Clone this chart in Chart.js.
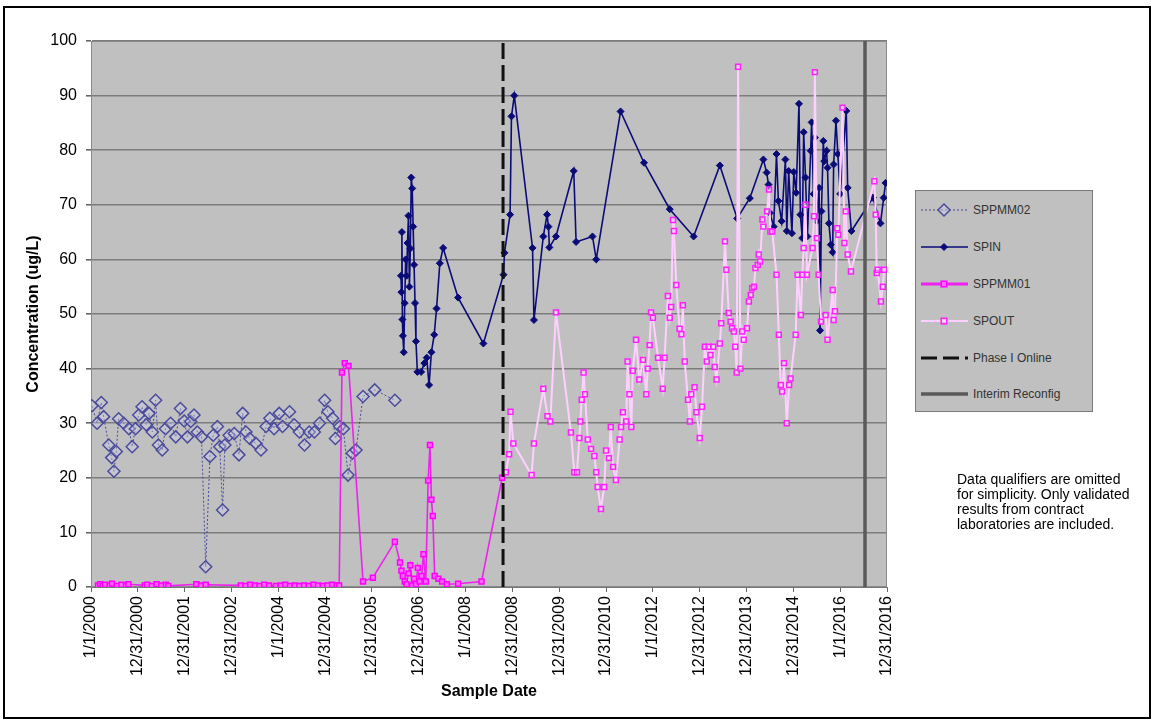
<!DOCTYPE html>
<html>
<head>
<meta charset="utf-8">
<script src="https://cdn.jsdelivr.net/npm/chart.js@4.4.1/dist/chart.umd.min.js"></script>
<style>
    body { margin: 0; background: #fff; font-family: Arial, "Liberation Sans", sans-serif; }
    #wrap { position: relative; width: 1154px; height: 723px; overflow: hidden; }
    #chart { position: absolute; left: 0; top: 0; }
    #frame { position: absolute; left: 3px; top: 6px; width: 1148px; height: 713px; border: 2px solid #000; box-sizing: border-box; pointer-events: none; }
    #legend { position: absolute; left: 915px; top: 190px; width: 178px; height: 222px; background: #c0c0c0; border: 1px solid #7a7a7a; box-sizing: border-box; }
    .item { position: absolute; left: 4px; height: 20px; font-size: 12px; line-height: 20px; color: #333; white-space: nowrap; }
    .item svg { position: absolute; left: 0; top: 0; }
    .item span { position: absolute; left: 53px; top: 0; }
    #note { position: absolute; left: 957px; top: 472px; font-size: 14px; line-height: 15px; color: #000; }
</style>
</head>
<body>
<div id="wrap">
    <canvas id="chart" width="1154" height="723"></canvas>
    <div id="legend"></div>
    <div id="note">Data qualifiers are omitted<br>for simplicity. Only validated<br>results from contract<br>laboratories are included.</div>
    <div id="frame"></div>
</div>
<script>
// x values are years after 1/1/2000 on a 365-day axis
const xTickLabels = ['1/1/2000', '12/31/2000', '12/31/2001', '12/31/2002', '1/1/2004', '12/31/2004',
    '12/31/2005', '12/31/2006', '1/1/2008', '12/31/2008', '12/31/2009', '12/31/2010', '1/1/2012',
    '12/31/2012', '12/31/2013', '12/31/2014', '1/1/2016', '12/31/2016'];

const sppmm02Years = [0.02, 0.13, 0.22, 0.27, 0.38, 0.44, 0.49, 0.54, 0.59, 0.70, 0.81, 0.88, 0.95, 1.02, 1.09,
    1.18, 1.24, 1.31, 1.38, 1.44, 1.52, 1.59, 1.70, 1.81, 1.91, 1.99, 2.06, 2.13, 2.20, 2.27, 2.36, 2.45, 2.54,
    2.61, 2.70, 2.75, 2.81, 2.86, 2.95, 3.06, 3.16, 3.24, 3.31, 3.39, 3.52, 3.63, 3.74, 3.82, 3.91, 4.02, 4.09,
    4.24, 4.34, 4.45, 4.56, 4.66, 4.77, 4.88, 4.99, 5.06, 5.16, 5.22, 5.31, 5.39, 5.49, 5.58, 5.66, 5.81, 6.06, 6.49];
const sppmm02Values = [33.2, 30.0, 33.8, 31.2, 26.0, 23.7, 21.2, 24.8, 30.8, 30.0, 29.0, 25.7, 29.0, 31.5, 33.0,
    29.7, 31.8, 28.4, 34.2, 26.0, 25.1, 29.0, 30.0, 27.5, 32.7, 30.4, 27.5, 30.3, 31.5, 28.4, 27.5, 3.7, 23.9,
    27.8, 29.4, 25.7, 14.1, 26.0, 27.8, 28.1, 24.2, 31.8, 28.4, 27.2, 26.3, 25.1, 29.4, 30.9, 29.0, 31.8, 29.4,
    32.1, 29.7, 28.4, 26.0, 28.4, 28.4, 30.0, 34.2, 32.1, 30.9, 27.2, 29.4, 29.0, 20.5, 24.5, 25.1, 34.9, 36.1, 34.2];

const spinYears = [6.62, 6.63, 6.64, 6.65, 6.66, 6.68, 6.70, 6.72, 6.74, 6.76, 6.78, 6.80, 6.82, 6.84, 6.86, 6.88,
    6.90, 6.92, 6.94, 6.97, 7.05, 7.12, 7.17, 7.22, 7.27, 7.33, 7.38, 7.45, 7.52, 7.84, 8.38, 8.81, 8.83, 8.95,
    8.98, 9.04, 9.43, 9.46, 9.66, 9.74, 9.77, 9.79, 9.93, 10.31, 10.36, 10.71, 10.79, 11.31, 11.81, 12.36, 12.87,
    13.43, 13.80, 14.07, 14.36, 14.43, 14.47, 14.50, 14.58, 14.64, 14.68, 14.75, 14.83, 14.86, 14.90, 14.97,
    15.01, 15.06, 15.12, 15.15, 15.19, 15.22, 15.26, 15.30, 15.37, 15.39, 15.43, 15.46, 15.50, 15.55, 15.57,
    15.60, 15.64, 15.66, 15.71, 15.73, 15.76, 15.80, 15.84, 15.86, 15.91, 15.95, 16.00, 16.13, 16.16, 16.24,
    16.70, 16.86, 16.93, 16.97];
const spinValues = [57, 54, 65, 49, 46, 43, 52, 60, 57, 63, 68, 55, 62, 75, 73, 66,
    59, 52, 45, 39.4, 39.4, 41, 42, 37, 43, 46.2, 51, 59.3, 62.1, 53, 44.6, 57.2, 61.2, 68.2,
    86.2, 90, 62.1, 48.9, 64.2, 68.2, 66, 62.2, 64.2, 76.2, 63.2, 64.2, 60, 87.1, 77.7, 69.2, 64.2,
    77.2, 67.5, 71.2, 78.3, 75.9, 73.7, 68.5, 66, 79.3, 70.7, 67, 78.3, 65.2, 76.2, 64.8,
    76, 72.2, 88.5, 68.2, 63.9, 83.3, 75, 64.2, 79.9, 85.1, 72, 82.3, 67, 73.1, 47,
    68.8, 81.7, 78, 79.9, 76.8, 66.6, 62.7, 61.3, 77.4, 85.4, 79.3, 72, 87.2, 73.1, 65.2,
    71.3, 66.6, 71.3, 74];

const sppmm01Years = [0.15, 0.20, 0.25, 0.30, 0.40, 0.45, 0.55, 0.65, 0.75, 0.80, 1.15, 1.20, 1.30, 1.40, 1.50,
    1.60, 1.65, 2.25, 2.35, 2.45, 3.20, 3.30, 3.40, 3.50, 3.60, 3.70, 3.80, 3.95, 4.05, 4.15, 4.25, 4.35, 4.45,
    4.55, 4.65, 4.75, 4.85, 4.95, 5.05, 5.15, 5.25, 5.30, 5.36, 5.42, 5.50, 5.81, 6.02, 6.49, 6.60, 6.63, 6.66,
    6.70, 6.74, 6.78, 6.82, 6.86, 6.90, 6.94, 6.98, 7.02, 7.06, 7.10, 7.15, 7.20, 7.24, 7.27, 7.30, 7.34, 7.42,
    7.50, 7.60, 7.84, 8.34, 8.78];
const sppmm01Values = [0.3, 0.5, 0.2, 0.4, 0.3, 0.6, 0.2, 0.4, 0.3, 0.5, 0.3, 0.4, 0.2, 0.5, 0.3,
    0.4, 0.2, 0.5, 0.3, 0.4, 0.3, 0.2, 0.4, 0.3, 0.2, 0.4, 0.3, 0.2, 0.3, 0.4, 0.2, 0.3, 0.2,
    0.3, 0.2, 0.4, 0.3, 0.2, 0.3, 0.4, 0.3, 0.3, 39.3, 41, 40.5, 1.0, 1.7, 8.3, 4.5, 3, 2,
    1, 0.5, 2.5, 4, 0.3, 1.5, 0.5, 3.5, 1, 2, 6, 1, 19.5, 26, 16, 13, 2, 1.5,
    1, 0.5, 0.6, 1, 20];

const spoutYears = [8.86, 8.93, 8.96, 9.02, 9.41, 9.46, 9.66, 9.75, 9.81, 9.93, 10.25, 10.32, 10.38, 10.43, 10.45,
    10.48, 10.52, 10.55, 10.61, 10.68, 10.75, 10.79, 10.82, 10.89, 10.96, 11.00, 11.06, 11.10, 11.15, 11.21,
    11.29, 11.32, 11.36, 11.43, 11.46, 11.50, 11.54, 11.57, 11.64, 11.71, 11.79, 11.86, 11.89, 11.93, 11.96,
    12.00, 12.11, 12.21, 12.25, 12.32, 12.36, 12.39, 12.43, 12.45, 12.50, 12.57, 12.61, 12.64, 12.68, 12.75,
    12.79, 12.82, 12.89, 12.93, 13.00, 13.05, 13.11, 13.15, 13.19, 13.23, 13.29, 13.32, 13.36, 13.43, 13.46,
    13.54, 13.57, 13.62, 13.66, 13.69, 13.73, 13.76, 13.79, 13.82, 13.87, 13.91, 13.94, 14.01, 14.05, 14.09,
    14.12, 14.16, 14.19, 14.24, 14.26, 14.29, 14.34, 14.36, 14.44, 14.48, 14.51, 14.55, 14.64, 14.69, 14.73,
    14.76, 14.80, 14.86, 14.91, 14.94, 15.05, 15.09, 15.16, 15.19, 15.22, 15.26, 15.29, 15.41, 15.44, 15.46,
    15.50, 15.54, 15.59, 15.69, 15.73, 15.84, 15.86, 15.89, 15.94, 15.96, 16.05, 16.09, 16.12, 16.16, 16.23,
    16.73, 16.76, 16.78, 16.80, 16.87, 16.91, 16.94];
const spoutValues = [21, 24.3, 32.1, 26.3, 20.5, 26.3, 36.3, 31.3, 30.3, 50.3, 28.3, 21, 21, 27.3, 30.3,
    34.3, 39.3, 35.3, 27, 25.3, 24, 21, 18.3, 14.3, 18.3, 25, 23.6, 29.3, 22, 19.6,
    27, 29.3, 32, 30.3, 41.3, 35.3, 29.3, 39.6, 45.3, 38, 41.6, 35.3, 40, 44.3, 50.3,
    49.3, 42, 36.3, 42, 53.3, 49.3, 51.3, 67.2, 65.2, 55.3, 47.3, 46.3, 51.6, 41.3, 34.3,
    30.3, 35.3, 36.6, 32, 27.3, 33, 44, 41.3, 44, 42.5, 44, 40.3, 38, 44.6, 48.3,
    63.3, 58.1, 50.2, 48.6, 47.4, 46.8, 44, 39.3, 95.3, 40, 46.8, 45.3, 47.4, 52.3, 53.5,
    54.7, 55, 58.4, 59, 60.9, 59.6, 67.3, 66, 68.8, 72.8, 65.1, 65.1, 57.2, 46.2, 37,
    35.8, 41, 30, 37, 38.2, 46.2, 57.2, 49.8, 57.2, 62.1, 70, 57.2, 62.1, 67.9, 94.3,
    63.9, 57.2, 48.6, 49.8, 45.3, 54.4, 48.9, 50.5, 65.7, 64.5, 87.8, 63, 68.8, 60.9, 57.8,
    74.3, 68.2, 57.5, 58.1, 52.3, 55, 58.1];

const phaseOnlineYear = 8.8;
const interimReconfigYear = 16.53;

const font = 'Arial, "Liberation Sans", sans-serif';
const pts = (xs, ys) => xs.map((x, i) => ({ x: x, y: ys[i] }));
const vline = (x) => [{ x: x, y: 0 }, { x: x, y: 100 }];

const datasets = [
    {
        label: 'SPPMM02', data: pts(sppmm02Years, sppmm02Values), order: 6,
        borderColor: '#4b4b9c', borderWidth: 1, borderDash: [2, 2],
        pointStyle: 'rectRot', pointRadius: 6, pointBorderWidth: 1.5,
        pointBorderColor: '#4b4b9c', pointBackgroundColor: 'rgba(210,210,235,0.35)'
    },
    {
        label: 'SPIN', data: pts(spinYears, spinValues), order: 5,
        borderColor: '#0b0b78', borderWidth: 1.6,
        pointStyle: 'rectRot', pointRadius: 3.5, pointBorderWidth: 1,
        pointBorderColor: '#0b0b78', pointBackgroundColor: '#0b0b78'
    },
    {
        label: 'SPPMM01', data: pts(sppmm01Years, sppmm01Values), order: 4,
        borderColor: '#ee22ee', borderWidth: 1.6,
        pointStyle: 'rect', pointRadius: 3.5, pointBorderWidth: 1.5,
        pointBorderColor: '#ff00ff', pointBackgroundColor: '#ff66ff'
    },
    {
        label: 'SPOUT', data: pts(spoutYears, spoutValues), order: 3,
        borderColor: '#ffd0ff', borderWidth: 2,
        pointStyle: 'rect', pointRadius: 3.5, pointBorderWidth: 1.5,
        pointBorderColor: '#ff22ff', pointBackgroundColor: 'rgba(255,220,255,0.4)'
    },
    {
        label: 'Phase I Online', data: vline(phaseOnlineYear), order: 2,
        borderColor: '#111', borderWidth: 3, borderDash: [16, 6], pointRadius: 0
    },
    {
        label: 'Interim Reconfig', data: vline(interimReconfigYear), order: 1,
        borderColor: '#5a5a5a', borderWidth: 3.5, pointRadius: 0
    }
];

// Plot background and frame
const plotBg = {
    id: 'plotBg',
    beforeDraw(chart) {
        const { ctx, chartArea: a } = chart;
        ctx.save();
        ctx.fillStyle = '#fff';
        ctx.fillRect(0, 0, chart.width, chart.height);
        ctx.fillStyle = '#c0c0c0';
        ctx.fillRect(a.left, a.top, a.right - a.left, a.bottom - a.top);
        ctx.restore();
    },
    beforeDatasetsDraw(chart) {
        const { ctx, chartArea: a } = chart;
        ctx.save();
        ctx.strokeStyle = '#8a8a8a';
        ctx.lineWidth = 1;
        ctx.strokeRect(a.left + 0.5, a.top + 0.5, a.right - a.left - 1, a.bottom - a.top - 1);
        ctx.restore();
    }
};

new Chart(document.getElementById('chart'), {
    type: 'line',
    data: { datasets: datasets },
    plugins: [plotBg],
    options: {
        responsive: false,
        animation: false,
        devicePixelRatio: 1,
        layout: { padding: { left: 0, top: 41, right: 267, bottom: 0 } },
        plugins: { legend: { display: false }, tooltip: { enabled: false } },
        scales: {
            x: {
                type: 'linear', min: 0, max: 17,
                afterFit: (s) => { s.height = 136; },
                ticks: {
                    stepSize: 1, autoSkip: false, maxRotation: 90, minRotation: 90, padding: 4,
                    color: '#000', font: { family: font, size: 16 },
                    callback: (v) => xTickLabels[Math.round(v)]
                },
                grid: { drawOnChartArea: false, tickLength: 5, color: '#666' },
                border: { color: '#777' },
                title: {
                    display: true, text: 'Sample Date', color: '#000',
                    font: { family: font, size: 16, weight: 'bold' }, padding: { bottom: 22 }
                }
            },
            y: {
                min: 0, max: 100,
                afterFit: (s) => { s.width = 91; },
                ticks: { stepSize: 10, padding: 9, color: '#000', font: { family: font, size: 16 } },
                grid: { color: '#7c7c7c', lineWidth: 1.6, tickLength: 5, tickColor: '#666' },
                border: { color: '#777' },
                title: {
                    display: true, text: 'Concentration (ug/L)', color: '#000',
                    font: { family: font, size: 16, weight: 'bold' }, padding: { top: 24 }
                }
            }
        }
    }
});

// Legend built from the datasets
const legendTops = [9, 46, 83, 120, 157, 193];
const legend = document.getElementById('legend');
datasets.forEach((d, i) => {
    const item = document.createElement('div');
    item.className = 'item';
    item.style.top = legendTops[i] + 'px';
    let marker = '';
    const r = d.pointRadius;
    if (r && d.pointStyle === 'rectRot') {
        marker = `<polygon points="24,${10 - r} ${24 + r},10 24,${10 + r} ${24 - r},10" fill="${d.pointBackgroundColor}" stroke="${d.pointBorderColor}" stroke-width="${d.pointBorderWidth}"/>`;
    } else if (r) {
        marker = `<rect x="${24 - r * 0.8}" y="${10 - r * 0.8}" width="${r * 1.6}" height="${r * 1.6}" fill="${d.pointBackgroundColor}" stroke="${d.pointBorderColor}" stroke-width="${d.pointBorderWidth}"/>`;
    }
    const dash = d.borderDash ? `stroke-dasharray="${d.borderDash.join(' ')}"` : '';
    item.innerHTML = `<svg width="50" height="20"><line x1="1" y1="10" x2="48" y2="10" stroke="${d.borderColor}" stroke-width="${d.borderWidth + (i === 2 ? 1.5 : 0)}" ${dash}/>${marker}</svg><span>${d.label}</span>`;
    legend.appendChild(item);
});
</script>
</body>
</html>
